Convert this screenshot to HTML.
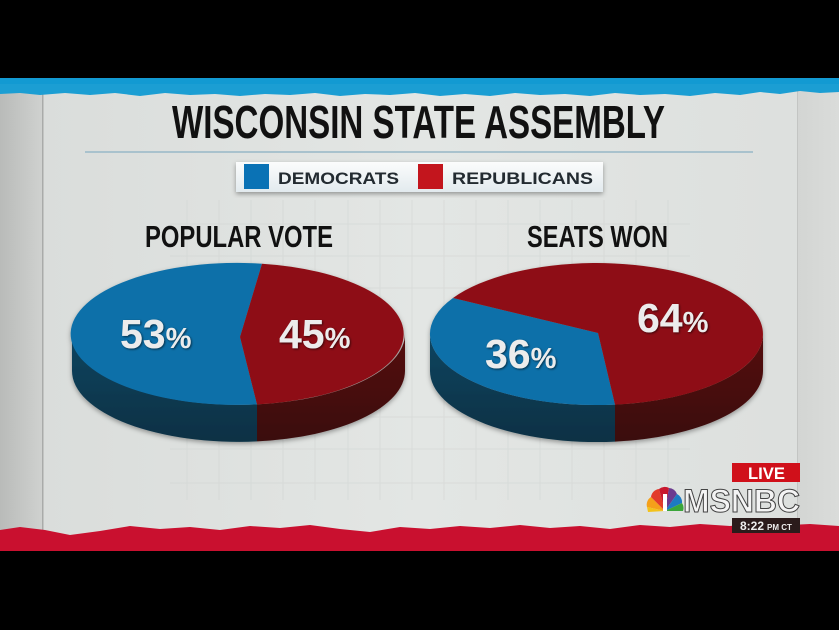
<!DOCTYPE html>
<html><head><meta charset="utf-8"><style>
html,body{margin:0;padding:0;background:#000;}
svg{display:block;}
</style></head><body>
<svg width="839" height="630" viewBox="0 0 839 630" xmlns="http://www.w3.org/2000/svg">
<defs>
<linearGradient id="bg" x1="0" y1="0" x2="1" y2="0">
<stop offset="0" stop-color="#d9dcda"/><stop offset="0.5" stop-color="#e3e6e4"/><stop offset="1" stop-color="#dcdfdd"/>
</linearGradient>
<linearGradient id="lp" x1="0" y1="0" x2="1" y2="0">
<stop offset="0" stop-color="#b9bbb9"/><stop offset="1" stop-color="#cfd1cf"/>
</linearGradient>
<linearGradient id="rp" x1="0" y1="0" x2="1" y2="0">
<stop offset="0" stop-color="#d3d5d3"/><stop offset="1" stop-color="#dadcda"/>
</linearGradient>
<linearGradient id="leg" x1="0" y1="0" x2="0" y2="1">
<stop offset="0" stop-color="#fbfcfc"/><stop offset="1" stop-color="#e2eaee"/>
</linearGradient>
<linearGradient id="bside" x1="0" y1="0" x2="0" y2="1">
<stop offset="0" stop-color="#0d4560"/><stop offset="1" stop-color="#093044"/>
</linearGradient>
<linearGradient id="rside" x1="0" y1="0" x2="0" y2="1">
<stop offset="0" stop-color="#560f11"/><stop offset="1" stop-color="#3a0a0b"/>
</linearGradient>
<filter id="ts" x="-20%" y="-20%" width="140%" height="140%">
<feDropShadow dx="1" dy="1" stdDeviation="1" flood-color="#000" flood-opacity="0.6"/>
</filter>
<filter id="ps" x="-10%" y="-10%" width="120%" height="130%">
<feDropShadow dx="0" dy="2" stdDeviation="2.5" flood-color="#000" flood-opacity="0.35"/>
</filter>
</defs>

<rect x="0" y="0" width="839" height="630" fill="#000"/>
<rect x="0" y="78" width="839" height="473" fill="url(#bg)"/>
<rect x="0" y="78" width="42" height="473" fill="url(#lp)"/>
<rect x="42" y="78" width="1.5" height="473" fill="#a9aba9"/>
<rect x="798" y="78" width="41" height="473" fill="url(#rp)"/>
<rect x="797" y="78" width="1" height="473" fill="#c3c5c3"/>

<g stroke="#cdd1cf" stroke-width="1" opacity="0.45">
<line x1="187" y1="200" x2="187" y2="500"/><line x1="219" y1="200" x2="219" y2="500"/><line x1="251" y1="200" x2="251" y2="500"/><line x1="283" y1="200" x2="283" y2="500"/><line x1="315" y1="200" x2="315" y2="500"/><line x1="348" y1="200" x2="348" y2="500"/><line x1="380" y1="200" x2="380" y2="500"/><line x1="412" y1="200" x2="412" y2="500"/><line x1="444" y1="200" x2="444" y2="500"/><line x1="476" y1="200" x2="476" y2="500"/><line x1="508" y1="200" x2="508" y2="500"/><line x1="540" y1="200" x2="540" y2="500"/><line x1="572" y1="200" x2="572" y2="500"/><line x1="604" y1="200" x2="604" y2="500"/><line x1="636" y1="200" x2="636" y2="500"/><line x1="668" y1="200" x2="668" y2="500"/>
<line x1="170" y1="224" x2="690" y2="224"/><line x1="170" y1="256" x2="690" y2="256"/><line x1="170" y1="288" x2="690" y2="288"/><line x1="170" y1="417" x2="690" y2="417"/><line x1="170" y1="449" x2="690" y2="449"/><line x1="170" y1="483" x2="690" y2="483"/>
</g>

<path d="M0 78 H839 V92 L820 93 L800 91 L780 94 L760 92 L740 95 L715 93 L690 96 L665 94 L640 95 L615 93 L590 96 L565 94 L540 95 L515 93 L490 96 L465 94 L440 96 L415 93 L390 95 L365 94 L340 96 L315 93 L290 95 L265 94 L240 96 L215 94 L190 95 L165 93 L140 96 L115 93 L90 95 L65 93 L40 95 L20 93 L0 94 Z" fill="#1b9ed3"/>
<path d="M0 78 H839 V84 H0 Z" fill="#129ad2"/>

<path d="M0 530 L20 527 L45 530 L70 535 L100 531 L130 526 L160 529 L190 527 L220 530 L250 526 L280 528 L310 525 L340 529 L370 532 L400 527 L430 529 L460 526 L490 528 L520 525 L550 528 L580 526 L610 529 L640 525 L670 527 L700 524 L730 526 L760 523 L790 525 L810 524 L839 526 V551 H0 Z" fill="#c9102f"/>

<text x="172" y="138" font-family="Liberation Sans Narrow, Liberation Sans, sans-serif" font-weight="bold" font-size="46" fill="#111" textLength="493" lengthAdjust="spacingAndGlyphs">WISCONSIN STATE ASSEMBLY</text>
<rect x="85" y="151" width="668" height="2" fill="#a9c2cd"/>

<rect x="236" y="162" width="367" height="30" fill="url(#leg)" filter="url(#ps)"/>
<rect x="244" y="164" width="25" height="25" fill="#0a72b5"/>
<text x="278" y="184" font-family="Liberation Sans, sans-serif" font-weight="bold" font-size="17" fill="#232b31" textLength="121" lengthAdjust="spacingAndGlyphs">DEMOCRATS</text>
<rect x="418" y="164" width="25" height="25" fill="#c3151d"/>
<text x="452" y="184" font-family="Liberation Sans, sans-serif" font-weight="bold" font-size="17" fill="#232b31" textLength="141" lengthAdjust="spacingAndGlyphs">REPUBLICANS</text>

<text x="145" y="247" font-family="Liberation Sans Narrow, Liberation Sans, sans-serif" font-weight="bold" font-size="31" fill="#111" textLength="188" lengthAdjust="spacingAndGlyphs">POPULAR VOTE</text>
<text x="527" y="247" font-family="Liberation Sans Narrow, Liberation Sans, sans-serif" font-weight="bold" font-size="31" fill="#111" textLength="141" lengthAdjust="spacingAndGlyphs">SEATS WON</text>

<g filter="url(#ps)">
<path d="M72 334 L72 371 A166.5 71 0 0 0 257 441.4 L257 404.4 A166.5 71 0 0 1 72 334 Z" fill="url(#bside)"/>
<path d="M257 404.4 L257 441.4 A166.5 71 0 0 0 405 371 L405 334 A166.5 71 0 0 1 257 404.4 Z" fill="url(#rside)"/>
<path d="M262 263.7 A166.5 71 0 1 0 257 404.4 L240 337 Z" fill="#0b70a9"/>
<path d="M262 263.7 A166.5 71 0 0 1 257 404.4 L240 337 Z" fill="#8e0e13"/>
</g>
<text x="120" y="348" font-family="Liberation Sans, sans-serif" font-weight="bold" fill="#ececec" filter="url(#ts)"><tspan font-size="41">53</tspan><tspan font-size="29">%</tspan></text>
<text x="279" y="348" font-family="Liberation Sans, sans-serif" font-weight="bold" fill="#ececec" filter="url(#ts)"><tspan font-size="41">45</tspan><tspan font-size="29">%</tspan></text>

<g filter="url(#ps)">
<path d="M430 334 L430 371 A166.5 71 0 0 0 615 441.6 L615 404.6 A166.5 71 0 0 1 430 334 Z" fill="url(#bside)"/>
<path d="M615 404.6 L615 441.6 A166.5 71 0 0 0 763 371 L763 334 A166.5 71 0 0 1 615 404.6 Z" fill="url(#rside)"/>
<path d="M453 298 A166.5 71 0 0 0 615 404.6 L598 333 Z" fill="#0b70a9"/>
<path d="M453 298 A166.5 71 0 1 1 615 404.6 L598 333 Z" fill="#8e0e13"/>
</g>
<text x="485" y="368" font-family="Liberation Sans, sans-serif" font-weight="bold" fill="#ececec" filter="url(#ts)"><tspan font-size="41">36</tspan><tspan font-size="29">%</tspan></text>
<text x="637" y="332" font-family="Liberation Sans, sans-serif" font-weight="bold" fill="#ececec" filter="url(#ts)"><tspan font-size="41">64</tspan><tspan font-size="29">%</tspan></text>

<rect x="732" y="463" width="68" height="19" fill="#d0101a"/>
<text x="748" y="479" font-family="Liberation Sans, sans-serif" font-weight="bold" font-size="17" fill="#fff" textLength="37" lengthAdjust="spacingAndGlyphs">LIVE</text>

<g transform="translate(665,511)">
<path d="M0 0 L-18 -4 A9 9 0 0 1 -14 -14 Z" fill="#f5a01a"/>
<path d="M0 0 L-14 -14 A9 9 0 0 1 -6 -22 Z" fill="#e23b2a"/>
<path d="M0 0 L-6 -22 A9 9 0 0 1 4 -23 Z" fill="#c8182e"/>
<path d="M0 0 L4 -23 A9 9 0 0 1 12 -17 Z" fill="#6b3a8f"/>
<path d="M0 0 L12 -17 A9 9 0 0 1 17 -8 Z" fill="#1d7ac2"/>
<path d="M0 0 L17 -8 A9 9 0 0 1 18 0 Z" fill="#3aa63a"/>
<path d="M-18 -4 L0 0 L-17 1 Z" fill="#f3c21a"/>
<rect x="-2" y="-17" width="4" height="17" fill="#fff"/>
</g>
<text x="683" y="512" font-family="Liberation Sans, sans-serif" font-weight="bold" font-size="32" fill="#f4f4f4" stroke="#444" stroke-width="1" textLength="117" lengthAdjust="spacingAndGlyphs">MSNBC</text>

<rect x="732" y="518" width="68" height="15" fill="#2b1b1b"/>
<text x="740" y="530" font-family="Liberation Sans, sans-serif" font-weight="bold" fill="#eee"><tspan font-size="12">8:22</tspan><tspan font-size="8" dx="3">PM CT</tspan></text>
</svg>
</body></html>
